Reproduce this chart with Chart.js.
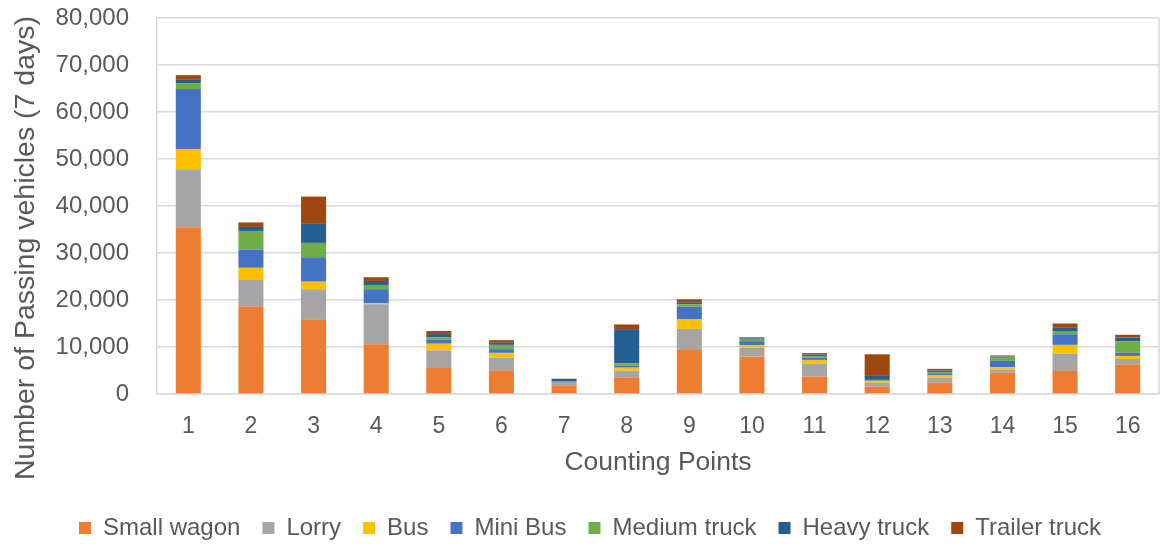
<!DOCTYPE html>
<html>
<head>
<meta charset="utf-8">
<script src="https://cdn.jsdelivr.net/npm/chart.js@4.4.1/dist/chart.umd.min.js"></script>
<style>
  html, body { margin: 0; padding: 0; background: #fff; }
  #wrap { width: 1160px; height: 544px; }
</style>
</head>
<body>
<div id="wrap"><canvas id="trafficChart" width="1160" height="544"></canvas></div>
<script>
// --- Counting point data (vehicles over 7 days) ---
const countingPoints = ['1', '2', '3', '4', '5', '6', '7', '8', '9', '10', '11', '12', '13', '14', '15', '16'];

const smallWagon   = [35500, 18600, 15900, 10600, 5700, 5050, 1850, 3550, 9500, 7950, 3700, 1550, 2400, 4550, 4900, 6300];
const lorry        = [12300, 5650, 6400, 8500, 3600, 2700, 450, 1400, 4350, 1900, 2750, 800, 1050, 650, 3700, 1150];
const bus          = [4350, 2600, 1600, 200, 1400, 1000, 80, 650, 2100, 500, 800, 350, 500, 500, 1850, 650];
const miniBus      = [12750, 3900, 5200, 3000, 900, 800, 250, 450, 2600, 900, 500, 150, 450, 1350, 2250, 700];
const mediumTruck  = [1250, 3950, 3050, 900, 450, 900, 120, 500, 550, 500, 350, 150, 300, 850, 700, 2400];
const heavyTruck   = [700, 850, 4050, 850, 700, 450, 450, 7250, 400, 250, 300, 850, 300, 100, 800, 850];
const trailerTruck = [1000, 950, 5800, 800, 650, 550, 50, 1000, 650, 100, 300, 4600, 350, 200, 800, 550];

const yTicks = [0, 10000, 20000, 30000, 40000, 50000, 60000, 70000, 80000];

const FONT = "'Liberation Sans', Arial, sans-serif";
const TEXT = '#595959';
const GRID = '#d9d9d9';
const Y_TITLE = 'Number of Passing vehicles (7 days)';

// right edge of the plot frame + rotated y axis title
const plotFrame = {
    id: 'plotFrame',
    afterDatasetsDraw(chart) {
        const { ctx, chartArea } = chart;
        ctx.save();
        ctx.strokeStyle = GRID;
        ctx.lineWidth = 1.5;
        ctx.beginPath();
        ctx.moveTo(chartArea.right, chartArea.top);
        ctx.lineTo(chartArea.right, chartArea.bottom);
        ctx.stroke();

        ctx.translate(26, 248);
        ctx.rotate(-Math.PI / 2);
        ctx.fillStyle = TEXT;
        ctx.font = `28.5px ${FONT}`;
        ctx.textAlign = 'center';
        ctx.textBaseline = 'middle';
        ctx.fillText(Y_TITLE, 0, 0);
        ctx.restore();
    }
};

const series = [
    { label: 'Small wagon', data: smallWagon, color: '#ED7D31' },
    { label: 'Lorry', data: lorry, color: '#A5A5A5' },
    { label: 'Bus', data: bus, color: '#FFC000' },
    { label: 'Mini Bus', data: miniBus, color: '#4472C4' },
    { label: 'Medium truck', data: mediumTruck, color: '#70AD47' },
    { label: 'Heavy truck', data: heavyTruck, color: '#255E91' },
    { label: 'Trailer truck', data: trailerTruck, color: '#9E480E' }
];

const ctx = document.getElementById('trafficChart').getContext('2d');
new Chart(ctx, {
    type: 'bar',
    data: {
        labels: countingPoints,
        datasets: series.map(s => ({
            label: s.label,
            data: s.data,
            backgroundColor: s.color,
            borderWidth: 0,
            categoryPercentage: 1,
            barPercentage: 0.4
        }))
    },
    options: {
        responsive: false,
        animation: false,
        layout: { padding: { top: 18, right: 1, bottom: 0, left: 21 } },
        plugins: {
            tooltip: { enabled: false },
            legend: {
                position: 'bottom',
                maxHeight: 50,
                labels: {
                    boxWidth: 12,
                    boxHeight: 12,
                    padding: 22,
                    color: TEXT,
                    font: { family: FONT, size: 24 }
                }
            }
        },
        scales: {
            x: {
                stacked: true,
                grid: { display: false },
                border: { display: true, color: GRID, width: 1.5 },
                ticks: { color: TEXT, font: { family: FONT, size: 23 }, padding: 11, maxRotation: 0 },
                title: {
                    display: true,
                    text: 'Counting Points',
                    color: TEXT,
                    font: { family: FONT, size: 26.5 },
                    padding: { top: 0, bottom: 15 }
                },
                afterFit(scale) { scale.height = 100; }
            },
            y: {
                stacked: true,
                min: 0,
                max: 80000,
                afterBuildTicks(scale) { scale.ticks = yTicks.map(v => ({ value: v })); },
                // invisible tick marks keep the labels clear of the axis
                grid: { color: GRID, lineWidth: 1.5, drawTicks: true, tickLength: 28, tickColor: 'rgba(0,0,0,0)' },
                border: { display: true, color: GRID, width: 1.5 },
                ticks: {
                    color: TEXT,
                    font: { family: FONT, size: 24 },
                    padding: 0,
                    callback: v => Number(v).toLocaleString('en-US')
                },
                afterFit(scale) { scale.width = 136; }
            }
        }
    },
    plugins: [plotFrame]
});
</script>
</body>
</html>
